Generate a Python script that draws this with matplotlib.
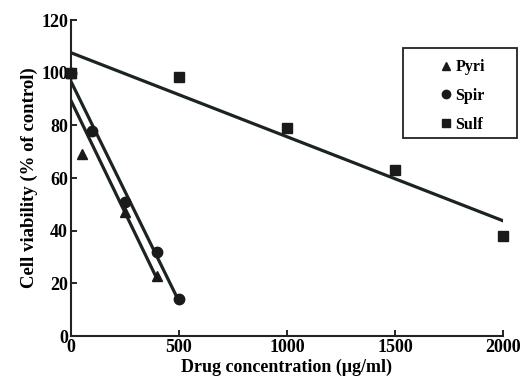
import numpy as np
from matplotlib import pyplot as plt

# data
pyri_x = np.array([0, 50, 250, 400])
pyri_y = np.array([100, 69, 47, 23])
spir_x = np.array([0, 100, 250, 400, 500])
spir_y = np.array([100, 78, 51, 32, 14])
sulf_x = np.array([0, 500, 1000, 1500, 2000])
sulf_y = np.array([100, 98.5, 79, 63, 38])

x_ticks = [0, 500, 1000, 1500, 2000]
y_ticks = [0, 20, 40, 60, 80, 100, 120]

plt.rcParams['font.family'] = ['Liberation Serif', 'DejaVu Serif']
plt.rcParams['font.weight'] = 'bold'

fig = plt.figure(figsize=(5.25, 3.85), dpi=100)
ax = fig.add_axes([0.135, 0.127, 0.823, 0.821])

line_color = '#1c2420'
series = [
    (pyri_x, pyri_y, '^', 7, 'Pyri'),
    (spir_x, spir_y, 'o', 7.5, 'Spir'),
    (sulf_x, sulf_y, 's', 7, 'Sulf'),
]
for x, y, m, ms, label in series:
    # linear trend line over the range of each series
    k, b = np.polyfit(x, y, 1)
    xs = np.array([x.min(), x.max()])
    ax.plot(xs, k * xs + b, color=line_color, lw=2.3, zorder=2)
    ax.plot(x, y, linestyle='none', marker=m, markersize=ms, color='#1a1a1a',
            label=label, zorder=3, clip_on=False)

ax.set_xlim(0, 2000)
ax.set_ylim(0, 120)
ax.set_xticks(x_ticks)
ax.set_yticks(y_ticks)
ax.tick_params(direction='in', length=4, width=1.2, labelsize=13, pad=2)
for s in ['top', 'right']:
    ax.spines[s].set_visible(False)
for s in ['left', 'bottom']:
    ax.spines[s].set_linewidth(1.5)
    ax.spines[s].set_color('#222222')

ax.set_xlabel('Drug concentration (μg/ml)', fontsize=13, fontweight='bold', labelpad=2)
ax.set_ylabel('Cell viability (% of control)', fontsize=13.5, fontweight='bold', labelpad=2)

# legend entries centred inside a fixed box
leg = ax.legend(loc='center', bbox_to_anchor=(462 / 525, 1 - 96 / 385),
                bbox_transform=fig.transFigure, frameon=False,
                handletextpad=0.2, handlelength=0.8,
                labelspacing=0.8, fontsize=11.5, markerscale=0.8,
                borderpad=0, borderaxespad=0)
fig.add_artist(plt.Rectangle((403 / 525, 1 - 138 / 385), 114 / 525, 90 / 385,
                             transform=fig.transFigure, fill=False,
                             lw=1.3, ec='#222222'))

plt.savefig('out.png', dpi=100)
